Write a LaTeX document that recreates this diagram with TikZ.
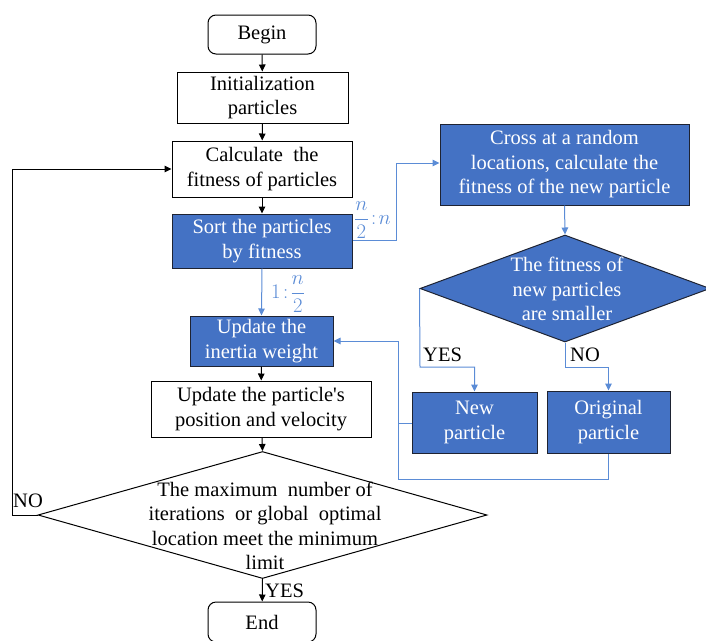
\documentclass[tikz,border=0pt]{standalone}
\usepackage{fontspec}
\setmainfont{Liberation Serif}
\usetikzlibrary{shapes.geometric,arrows.meta}
\definecolor{fillblue}{RGB}{68,114,196}
\definecolor{lineblue}{RGB}{91,140,214}
\definecolor{edgedark}{RGB}{30,35,50}
\tikzset{
  every node/.style={font=\fontsize{20.5}{24.5}\selectfont, align=center},
  wbox/.style={draw=black, line width=1pt, fill=white, inner sep=0pt, rectangle},
  bbox/.style={draw=edgedark, line width=1pt, fill=fillblue, text=white, inner sep=0pt, rectangle},
  rbox/.style={wbox, rounded corners=8pt},
  dia/.style={diamond, inner sep=0pt, line width=1pt},
  blk/.style={draw=black, line width=1pt, -{Triangle[length=7pt,width=6.5pt]}},
  blu/.style={draw=lineblue, line width=1pt, -{Triangle[length=7pt,width=6.5pt]}},
  bluplain/.style={draw=lineblue, line width=1pt},
  lab/.style={inner sep=0pt, anchor=west},
}
\begin{document}
\begin{tikzpicture}[x=1pt,y=-1pt]
\useasboundingbox (0,0) rectangle (706,640);
% main column
\node[rbox, minimum width=108pt, minimum height=39pt] (begin) at (262,34.5) {Begin};
\node[wbox, minimum width=171pt, minimum height=51pt] (init) at (262.5,97.5) {Initialization\\particles};
\node[wbox, minimum width=180pt, minimum height=56pt] (calc) at (262,169) {Calculate\enspace the\\fitness of particles};
\node[bbox, minimum width=180pt, minimum height=54pt] (sort) at (262,241) {Sort the particles\\by fitness};
\node[bbox, minimum width=143pt, minimum height=50pt] (inertia) at (261.5,341) {Update the\\inertia weight};
\node[wbox, minimum width=220pt, minimum height=56pt] (pos) at (261,409) {Update the particle\textquotesingle s\\position and velocity};
\node[dia, draw=black, fill=white, minimum width=449pt, minimum height=127pt] (check) at (262.5,515) {};
\node[inner sep=0pt] (checktext) at (265,526) {The maximum\enspace number of\\iterations\enspace or global\enspace optimal\\location meet the minimum\\limit};
\node[rbox, minimum width=108pt, minimum height=40pt] (end) at (262,622) {End};
% right branch
\node[bbox, minimum width=249pt, minimum height=81pt] (cross) at (564.5,164.5) {Cross at a random\\locations, calculate the\\fitness of the new particle};
\node[dia, draw=edgedark, fill=fillblue, minimum width=290pt, minimum height=107pt] (cmp) at (565,288.5) {};
\node[inner sep=0pt, text=white] (cmptext) at (567,289) {The fitness of\\new particles\\are smaller};
\node[bbox, minimum width=125pt, minimum height=61pt] (newp) at (474.5,422.5) {New\\particle};
\node[bbox, minimum width=123pt, minimum height=62pt] (orig) at (608.5,422) {Original\\particle};
% coordinates
\coordinate (loopL) at (12,515);
\coordinate (loopT) at (12,169);
\coordinate (sr) at (396,240);
\coordinate (su) at (396,163);
\coordinate (yl) at (420,367);
\coordinate (yr) at (474.5,367);
\coordinate (nl) at (565,367);
\coordinate (nr) at (608.5,367);
\coordinate (back) at (398,341);
\coordinate (nback) at (398,423);
\coordinate (obot) at (608.5,479);
\coordinate (obl) at (398,479);
% black connectors
\draw[blk] (begin) -- (init);
\draw[blk] (init) -- (calc);
\draw[blk] (calc) -- (sort);
\draw[blk] (inertia) -- (pos);
\draw[blk] (pos) -- (check.north);
\draw[blk] (check.south) -- (end);
\draw[blk] (check.west) -- (loopL) -- (loopT) -- (calc.west);
% blue connectors
\draw[blu] (sort.south) -- (inertia.north);
\draw[blu] (sort.east |- sr) -- (sr) -- (su) -- (cross.west |- su);
\draw[blu] (cross.south) -- (cmp.north);
\draw[blu] (cmp.west) -- (yl) -- (yr) -- (newp.north);
\draw[blu] (cmp.south) -- (nl) -- (nr) -- (orig.north);
\draw[bluplain] (newp.west |- nback) -- (nback);
\draw[blu] (orig.south) -- (obot) -- (obl) -- (back) -- (inertia.east);
% labels
\node[lab] (yes1) at (265,591) {YES};
\node[lab] (no1) at (13,501) {NO};
\node[lab] (yes2) at (423,355) {YES};
\node[lab] (no2) at (570,355) {NO};
\node[lab, text=lineblue] (frac1) at (354,220) {$\displaystyle\frac{n}{2}\!:\!n$};
\node[lab, text=lineblue] (frac2) at (271,294) {$1\!:\!\displaystyle\frac{n}{2}$};
\end{tikzpicture}
\end{document}
